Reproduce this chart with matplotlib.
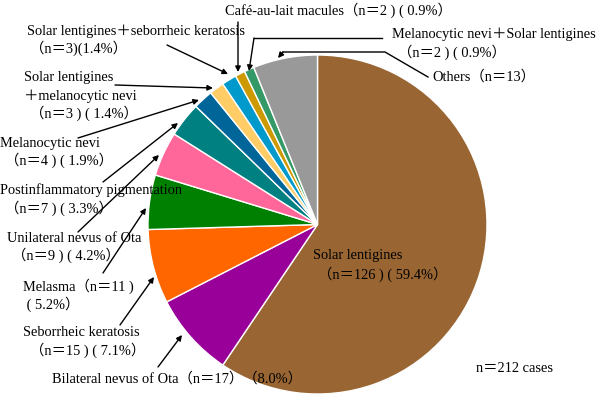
import matplotlib
matplotlib.use("Agg")
import matplotlib.pyplot as plt

plt.rcParams['font.family'] = ['Liberation Serif', 'Noto Sans CJK JP']
plt.rcParams['font.size'] = 10.4

# slices, clockwise from 12 o'clock
names = ['Solar lentigines', 'Bilateral nevus of Ota', 'Seborrheic keratosis',
         'Melasma', 'Unilateral nevus of Ota', 'Postinflammatory pigmentation',
         'Melanocytic nevi', 'Solar lentigines＋melanocytic nevi',
         'Solar lentigines＋seborrheic keratosis', 'Café-au-lait macules',
         'Melanocytic nevi＋Solar lentigines', 'Others']
counts = [126, 17, 15, 11, 9, 7, 4, 3, 3, 2, 2, 13]
colors = ['#996633', '#990099', '#FF6600', '#008000', '#FF6699', '#008080',
          '#006699', '#FFCC66', '#0099CC', '#CC9900', '#339966', '#999999']
total = sum(counts)

fig = plt.figure(figsize=(6, 3.96), dpi=100)
ax = fig.add_axes([0, 0, 1, 1])
ax.pie(counts, colors=colors, startangle=-90, counterclock=True,
       center=(317.5, 224.5), radius=169.5,
       wedgeprops=dict(edgecolor='white', linewidth=1))
ax.set_xlim(0, 600)
ax.set_ylim(396, 0)
ax.set_aspect('equal')
ax.axis('off')

def pct(i):
    return f'{counts[i] / total * 100:.1f}%'

def np_(i):
    return f'（n＝{counts[i]} ) ( {pct(i)}）'

txt = dict(color='black', va='center', ha='left')
arr = dict(arrowstyle='-|>', color='black', lw=1, mutation_scale=8,
           shrinkA=0, shrinkB=0)

# inner label
ax.text(313, 256, names[0], **txt)
ax.text(318, 274, np_(0), **txt)
ax.text(476, 368, f'n＝{total} cases', **txt)

# Bilateral nevus of Ota
ax.text(52, 379, f'{names[1]}（n＝{counts[1]}）（{pct(1)}）', **txt)
ax.annotate('', xy=(182, 335), xytext=(158, 367), arrowprops=arr)

# Seborrheic keratosis
ax.text(23, 333, names[2], **txt)
ax.text(30, 350, np_(2), **txt)
ax.annotate('', xy=(154, 277), xytext=(120, 325), arrowprops=arr)

# Melasma
ax.text(23, 286, f'{names[3]}（n＝{counts[3]} )', **txt)
ax.text(23, 304, f' ( {pct(3)}）', **txt)
ax.annotate('', xy=(146, 208), xytext=(103, 273), arrowprops=arr)

# Unilateral nevus of Ota
ax.text(7, 238, names[4], **txt)
ax.text(12, 255, np_(4), **txt)
ax.annotate('', xy=(159, 155), xytext=(78, 232), arrowprops=arr)

# Postinflammatory pigmentation
ax.text(0, 190, names[5], **txt)
ax.text(5, 208, np_(5), **txt)
ax.annotate('', xy=(178, 123), xytext=(103, 182), arrowprops=arr)

# Melanocytic nevi
ax.text(0, 143, names[6], **txt)
ax.text(5, 160, np_(6), **txt)
ax.annotate('', xy=(199, 100), xytext=(78, 138), arrowprops=arr)

# Solar lentigines + melanocytic nevi
ax.text(24, 77, 'Solar lentigines', **txt)
ax.text(24, 96, '＋melanocytic nevi', **txt)
ax.text(30, 113, np_(7), **txt)
ax.annotate('', xy=(213, 88), xytext=(115, 85), arrowprops=arr)

# Solar lentigines + seborrheic keratosis
ax.text(27, 31, names[8], **txt)
ax.text(30, 48, f'（n＝{counts[8]})({pct(8)}）', **txt)
ax.annotate('', xy=(228, 74), xytext=(167, 45), arrowprops=arr)

# Cafe-au-lait macules
ax.text(225, 10, f'{names[9]}{np_(9)}', **txt)
ax.annotate('', xy=(238, 72), xytext=(238, 22), arrowprops=arr)

# Melanocytic nevi + Solar lentigines
ax.text(392, 34, names[10], **txt)
ax.text(398, 52, np_(10), **txt)
ax.plot([382, 254], [38, 38], color='black', lw=1)
ax.annotate('', xy=(249, 71), xytext=(254, 38), arrowprops=arr)

# Others
ax.text(432, 77, f'{names[11]}（n＝{counts[11]}）', **txt)
ax.plot([428, 385, 283], [77, 52, 52], color='black', lw=1)
ax.annotate('', xy=(278, 58), xytext=(283, 52), arrowprops=arr)

fig.savefig('out.png', dpi=100)
